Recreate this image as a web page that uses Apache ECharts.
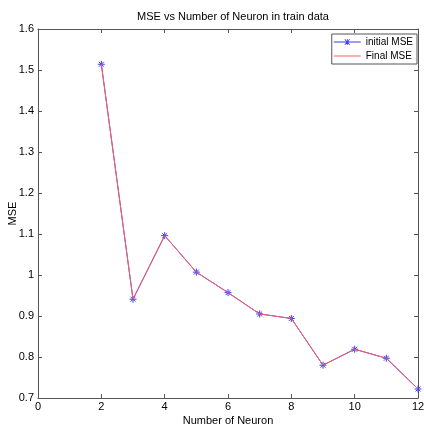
<!DOCTYPE html>
<html>
<head>
<meta charset="utf-8">
<script src="https://cdn.jsdelivr.net/npm/echarts@6/dist/echarts.min.js"></script>
<style>
  html, body { margin: 0; padding: 0; background: #fff; }
  #chart { width: 424px; height: 426px; }
</style>
</head>
<body>
<div id="chart"></div>
<script>
// values
const neurons = [2, 3, 4, 5, 6, 7, 8, 9, 10, 11, 12];
const initialMSE = [1.514, 0.941, 1.096, 1.007, 0.957, 0.905, 0.894, 0.780, 0.819, 0.797, 0.722];
const finalMSE = [1.514, 0.941, 1.096, 1.007, 0.957, 0.905, 0.894, 0.780, 0.819, 0.797, 0.722];

const font = 'Liberation Sans, Arial, sans-serif';
const axisColor = '#555';
const blue = '#3a3aff';
const red = '#ff6060';
const star = 'path://M0,-5L0,5M-5,0L5,0M-3.5,-3.5L3.5,3.5M-3.5,3.5L3.5,-3.5';
// legend icons (27 x 8 box): line with asterisk, plain line
const starLineIcon = 'path://M0,3.6H27V4.4H0Z M13.1,1H13.9V7H13.1Z M10.7,1.5L11.3,1L16.3,6.5L15.7,7Z M15.7,1L16.3,1.5L11.3,7L10.7,6.5Z';
const lineIcon = 'path://M0,3.6H27V4.4H0Z M0,0H0.01V8H0Z';

const pairs = arr => neurons.map((n, i) => [n, arr[i]]);

const chart = echarts.init(document.getElementById('chart'));

// box axes on top / right (ticks only)
const boxAxis = (pos) => ({
  type: 'value',
  position: pos,
  min: pos === 'top' ? 0 : 0.7,
  max: pos === 'top' ? 12 : 1.6,
  interval: pos === 'top' ? 2 : 0.1,
  axisLine: { show: true, onZero: false, lineStyle: { color: axisColor, width: 1 } },
  axisTick: { show: true, inside: true, length: 4, lineStyle: { color: axisColor } },
  axisLabel: { show: false },
  splitLine: { show: false }
});

chart.setOption({
  animation: false,
  backgroundColor: '#fff',
  textStyle: { fontFamily: font },
  title: {
    text: 'MSE vs Number of Neuron in train data',
    left: 228,
    textAlign: 'center',
    top: 6,
    textStyle: { fontSize: 11, fontWeight: 'normal', color: '#000', fontFamily: font }
  },
  legend: {
    right: 7,
    top: 34,
    orient: 'vertical',
    itemWidth: 27,
    itemHeight: 8,
    itemGap: 4,
    padding: [3, 4, 3, 2],
    borderColor: axisColor,
    borderWidth: 1,
    backgroundColor: '#fff',
    textStyle: { fontSize: 10, color: '#000', fontFamily: font },
    data: [
      { name: 'initial MSE', icon: starLineIcon, itemStyle: { color: blue, borderWidth: 0 } },
      { name: 'Final MSE', icon: lineIcon, itemStyle: { color: red, borderWidth: 0 } }
    ]
  },
  grid: { left: 38, right: 6, top: 29, bottom: 28, outerBoundsMode: 'none', containLabel: false },
  xAxis: [
    {
      type: 'value',
      position: 'bottom',
      min: 0,
      max: 12,
      interval: 2,
      name: 'Number of Neuron',
      nameLocation: 'middle',
      nameGap: 17,
      nameMoveOverlap: false,
      nameTextStyle: { fontSize: 11, color: '#000', fontFamily: font },
      axisLine: { onZero: false, lineStyle: { color: axisColor, width: 1 } },
      axisTick: { inside: true, length: 4, lineStyle: { color: axisColor } },
      axisLabel: { fontSize: 11, color: '#000', margin: 3, fontFamily: font },
      splitLine: { show: false }
    },
    boxAxis('top')
  ],
  yAxis: [
    {
      type: 'value',
      position: 'left',
      min: 0.7,
      max: 1.6,
      interval: 0.1,
      name: 'MSE',
      nameLocation: 'middle',
      nameGap: 20,
      nameMoveOverlap: false,
      nameTextStyle: { fontSize: 11, color: '#000', fontFamily: font },
      axisLine: { show: true, onZero: false, lineStyle: { color: axisColor, width: 1 } },
      axisTick: { show: true, inside: true, length: 4, lineStyle: { color: axisColor } },
      axisLabel: {
        fontSize: 11, color: '#000', margin: 4, fontFamily: font,
        formatter: v => String(Math.round(v * 10) / 10)
      },
      splitLine: { show: false }
    },
    boxAxis('right')
  ],
  series: [
    {
      name: 'initial MSE',
      type: 'line',
      data: pairs(initialMSE),
      symbol: star,
      symbolSize: 7,
      lineStyle: { color: blue, width: 1 },
      itemStyle: { color: blue, borderColor: blue, borderWidth: 1 },
      z: 2
    },
    {
      name: 'Final MSE',
      type: 'line',
      data: pairs(finalMSE),
      symbol: 'none',
      lineStyle: { color: red, width: 1 },
      itemStyle: { color: red },
      z: 3
    }
  ]
});
</script>
</body>
</html>
